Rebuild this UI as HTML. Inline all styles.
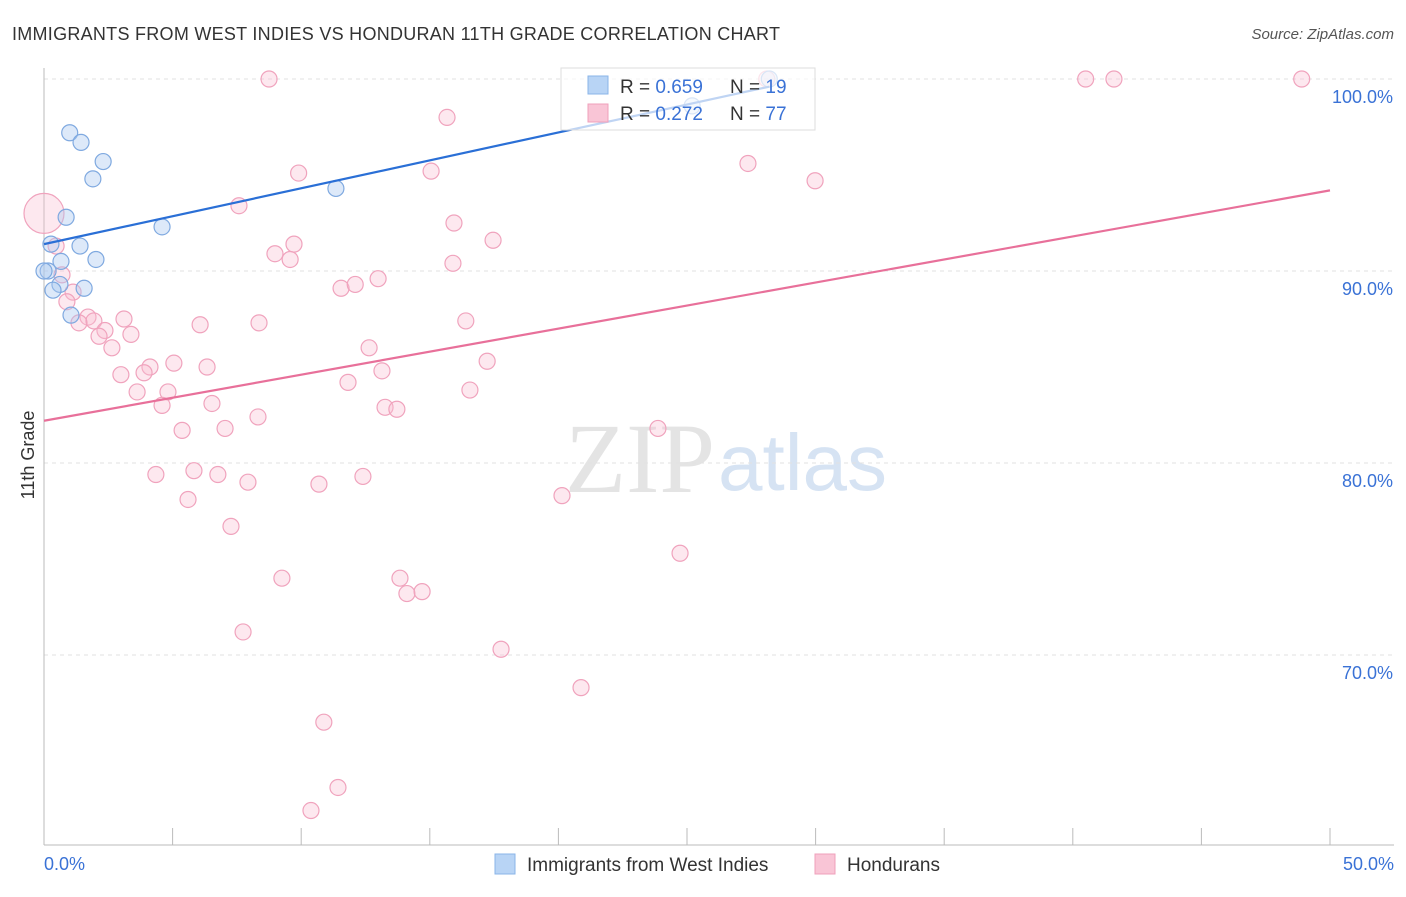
<!DOCTYPE html>
<html><head><meta charset="utf-8"><style>
body{margin:0;background:#fff;font-family:"Liberation Sans",sans-serif}
</style></head><body>
<svg id="c" width="1406" height="892" xmlns="http://www.w3.org/2000/svg">
<text x="12" y="40" font-size="18" textLength="768" fill="#333">IMMIGRANTS FROM WEST INDIES VS HONDURAN 11TH GRADE CORRELATION CHART</text>
<text x="1394" y="39" font-size="15" fill="#555" text-anchor="end" font-style="italic">Source: ZipAtlas.com</text>
<text x="715" y="492" font-size="100" fill="#e4e4e4" text-anchor="end" font-family="Liberation Serif">ZIP</text>
<text x="718" y="490" font-size="80" fill="#d6e3f3">atlas</text>
<text transform="translate(34,455) rotate(-90)" font-size="18" fill="#333" text-anchor="middle">11th Grade</text>
<g id="grid"></g><g id="axes"></g><g id="pts"></g><g id="lines"></g>
<g>
<rect x="561" y="68" width="254" height="62" fill="rgba(255,255,255,0.7)" stroke="#ddd"/>
<rect x="588" y="76" width="20" height="18" fill="#b8d4f5" stroke="#8ab4e8"/>
<rect x="588" y="104" width="20" height="18" fill="#f9c5d6" stroke="#efa0bb"/>
<text x="620" y="93" font-size="19" fill="#333">R = <tspan fill="#3a72d6">0.659</tspan></text>
<text x="730" y="93" font-size="19" fill="#333">N = <tspan fill="#3a72d6">19</tspan></text>
<text x="620" y="120" font-size="19" fill="#333">R = <tspan fill="#3a72d6">0.272</tspan></text>
<text x="730" y="120" font-size="19" fill="#333">N = <tspan fill="#3a72d6">77</tspan></text>
</g>
<g>
<rect x="495" y="854" width="20" height="20" fill="#b8d4f5" stroke="#8ab4e8"/>
<text x="527" y="871" font-size="19" fill="#333">Immigrants from West Indies</text>
<rect x="815" y="854" width="20" height="20" fill="#f9c5d6" stroke="#efa0bb"/>
<text x="847" y="871" font-size="19" fill="#333">Hondurans</text>
</g>
</svg>
<script>
const yTicks=[100,90,80,70];
const xTickVals=[0,5,10,15,20,25,30,35,40,45,50];
const blueX=[1.0,1.44,2.3,1.9,0.86,4.59,11.35,1.4,0.27,2.02,0.66,0.16,0.62,1.56,0.35,1.05,0,25.2,28.2];
const blueY=[97.2,96.7,95.7,94.8,92.8,92.3,94.3,91.3,91.4,90.6,90.5,90.0,89.3,89.1,89.0,87.7,90.0,98.6,100];
const pinkX=[8.75,28.1,40.5,41.6,48.9,15.67,9.9,15.05,27.37,29.98,7.58,15.94,17.46,9.72,8.98,9.57,15.9,12.99,11.55,12.1,0,0.47,0.7,1.13,0.89,1.71,1.94,1.36,2.37,2.14,3.11,3.38,2.64,6.07,8.36,12.64,16.4,2.99,4.12,5.05,3.89,6.34,13.14,17.23,11.82,3.62,4.82,4.59,6.53,16.56,8.32,13.26,13.72,5.37,7.04,23.87,4.35,5.83,6.76,7.93,10.69,12.4,5.6,20.14,7.27,24.73,9.25,13.84,14.11,14.7,7.74,17.77,20.88,10.88,11.43,10.38];
const pinkY=[100,100,100,100,100,98.0,95.1,95.2,95.6,94.7,93.4,92.5,91.6,91.4,90.9,90.6,90.4,89.6,89.1,89.3,93.0,91.3,89.8,88.9,88.4,87.6,87.4,87.3,86.9,86.6,87.5,86.7,86.0,87.2,87.3,86.0,87.4,84.6,85.0,85.2,84.7,85.0,84.8,85.3,84.2,83.7,83.7,83.0,83.1,83.8,82.4,82.9,82.8,81.7,81.8,81.8,79.4,79.6,79.4,79.0,78.9,79.3,78.1,78.3,76.7,75.3,74.0,74.0,73.2,73.3,71.2,70.3,68.3,66.5,63.1,61.9];
const blueLine=[[0,91.4],[28.2,99.6]];
const pinkLine=[[0,82.2],[50,94.2]];
const X=v=>44+v*25.72, Y=v=>79+(100-v)*19.2;
const ns='http://www.w3.org/2000/svg';
function mk(t,a,p){const e=document.createElementNS(ns,t);for(const k in a)e.setAttribute(k,a[k]);document.getElementById(p).appendChild(e);return e;}
yTicks.forEach(v=>{
 const l=mk('line',{x1:44,x2:1394,y1:Y(v),y2:Y(v),stroke:'#e2e2e2','stroke-dasharray':'4,4'},'grid');
 
 
 const t=mk('text',{x:1393,y:Y(v)+24,'font-size':18,fill:'#3a72d6','text-anchor':'end'},'grid');
 t.textContent=v.toFixed(1)+'%';
 
 
});
let ax=mk('line',{x1:44,x2:44,y1:68,y2:845,stroke:'#bbb'},'axes');


ax=mk('line',{x1:44,x2:1394,y1:845,y2:845,stroke:'#bbb'},'axes');


xTickVals.forEach(v=>{
 const l=mk('line',{x1:X(v),x2:X(v),y1:828,y2:845,stroke:'#bbb'},'axes');
 
 
});
[[0,'start',44],[50,'end',1394]].forEach(([v,a,x])=>{
 const t=mk('text',{x:x,y:870,'font-size':18,fill:'#3a72d6','text-anchor':a},'axes');
 t.textContent=v.toFixed(1)+'%';
 
 
});
pinkX.forEach((v,i)=>{
 const c=mk('circle',{cx:X(v),cy:Y(pinkY[i]),r:i==20?20:8,fill:'rgba(249,190,210,0.35)',stroke:'#f0a3bd','stroke-width':1.2},'pts');
 
 
});
blueX.forEach((v,i)=>{
 const c=mk('circle',{cx:X(v),cy:Y(blueY[i]),r:8,fill:'rgba(170,200,240,0.4)',stroke:'#7fa9e0','stroke-width':1.2},'pts');
 
 
});
let l=mk('line',{x1:X(blueLine[0][0]),y1:Y(blueLine[0][1]),x2:X(blueLine[1][0]),y2:Y(blueLine[1][1]),stroke:'#2a6fd6','stroke-width':2.2},'lines');


l=mk('line',{x1:X(pinkLine[0][0]),y1:Y(pinkLine[0][1]),x2:X(pinkLine[1][0]),y2:Y(pinkLine[1][1]),stroke:'#e8709a','stroke-width':2.2},'lines');


</script>
</body></html>
